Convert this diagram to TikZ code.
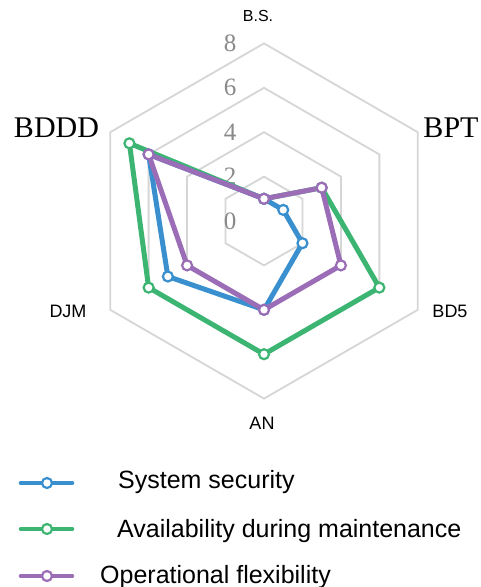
\documentclass[tikz,border=0pt]{standalone}
\usepackage{fontspec}
\setmainfont{Liberation Serif}
\setsansfont{Liberation Sans}
\definecolor{ringgray}{HTML}{D6D6D6}
\definecolor{numgray}{HTML}{8A8A8A}
\definecolor{secblue}{HTML}{3A8FCF}
\definecolor{availgreen}{HTML}{3DB572}
\definecolor{flexpurple}{HTML}{9B6DB6}
\tikzset{
  ring/.style={draw=ringgray, line width=1.8pt, line join=miter},
  series/.style={line width=5pt, line join=round, line cap=round},
  marker/.style={circle, draw=#1, fill=white, line width=2.2pt, inner sep=0pt, minimum size=10pt},
  axislabel/.style={font=\sffamily\fontsize{18}{18}\selectfont, inner sep=0pt},
  biglabel/.style={font=\rmfamily\fontsize{30}{30}\selectfont, inner sep=0pt},
  ticklabel/.style={font=\rmfamily\fontsize{25}{25}\selectfont, text=numgray, inner sep=0pt},
  legendtext/.style={font=\sffamily\fontsize{25}{25}\selectfont, inner sep=0pt, anchor=base west},
  legendline/.style={line width=4.6pt, line cap=round},
}
\begin{document}
\begin{tikzpicture}[x=1pt, y=-1pt]
\useasboundingbox (0,0) rectangle (480,587);
\fill[white] (0,0) rectangle (480,587);

% radar grid, scale: one unit of value = 22.2pt
\begin{scope}[shift={(264pt,-221pt)}, x=22.2pt, y=22.2pt]
  \foreach \r in {2,4,6,8}
    \draw[ring] (90:\r) -- (30:\r) -- (-30:\r) -- (-90:\r) -- (-150:\r) -- (150:\r) -- cycle;

  % tick values
  \foreach \r in {0,2,4,6,8}
    \node[ticklabel] at (-1.53,\r) {\r};

  % data: System security
  \foreach \a/\v [count=\i] in {90/1,30/1,-30/2,-90/4,-150/5,150/6}
    \coordinate (b\i) at (\a:\v);
  % data: Availability during maintenance
  \foreach \a/\v [count=\i] in {90/1,30/3,-30/6,-90/6,-150/6,150/7}
    \coordinate (g\i) at (\a:\v);
  % data: Operational flexibility
  \foreach \a/\v [count=\i] in {90/1,30/3,-30/4,-90/4,-150/4,150/6}
    \coordinate (p\i) at (\a:\v);
\end{scope}

% axis labels
\node[axislabel, font=\sffamily\fontsize{16}{16}\selectfont] (lbs) at (258,16) {B.S.};
\node[biglabel] (lbpt) at (451,128) {BPT};
\node[axislabel] (lbd5) at (450,311) {BD5};
\node[axislabel] (lan) at (262,423) {AN};
\node[axislabel] (ldjm) at (68,311) {DJM};
\node[biglabel] (lbddd) at (56.5,127.5) {BDDD};

% series polygons
\draw[series, availgreen] (g1) -- (g2) -- (g3) -- (g4) -- (g5) -- (g6) -- cycle;
\draw[series, secblue] (b1) -- (b2) -- (b3) -- (b4) -- (b5) -- (b6) -- cycle;
\draw[series, flexpurple] (p1) -- (p2) -- (p3) -- (p4) -- (p5) -- (p6) -- cycle;

\foreach \i in {1,...,6} \node[marker=availgreen] (mg\i) at (g\i) {};
\foreach \i in {1,...,6} \node[marker=secblue] (mb\i) at (b\i) {};
\foreach \i in {1,...,6} \node[marker=flexpurple] (mp\i) at (p\i) {};

% legend
\coordinate (la1) at (21,483); \coordinate (lb1) at (72,483);
\coordinate (la2) at (21,529); \coordinate (lb2) at (72,529);
\coordinate (la3) at (21,576); \coordinate (lb3) at (72,576);
\draw[legendline, secblue] (la1) -- (lb1);
\draw[legendline, availgreen] (la2) -- (lb2);
\draw[legendline, flexpurple] (la3) -- (lb3);
\node[marker=secblue] (lm1) at (47,483) {};
\node[marker=availgreen] (lm2) at (47,529) {};
\node[marker=flexpurple] (lm3) at (47,576) {};
\node[legendtext] (lt1) at (118,488) {System security};
\node[legendtext] (lt2) at (117,537) {Availability during maintenance};
\node[legendtext] (lt3) at (100,583) {Operational flexibility};
\end{tikzpicture}
\end{document}
